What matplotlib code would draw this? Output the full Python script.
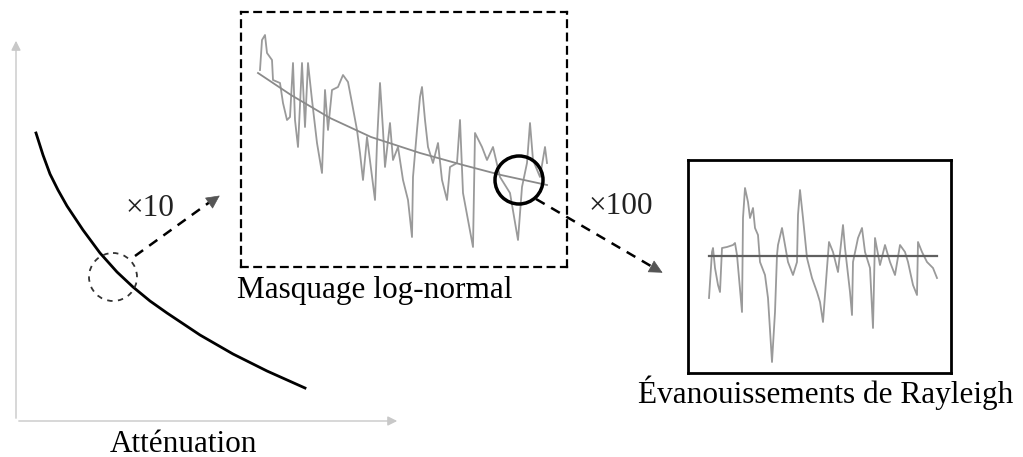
import matplotlib
matplotlib.use("Agg")
import matplotlib.pyplot as plt
from matplotlib.patches import Circle

plt.rcParams['font.family'] = ['Liberation Serif', 'DejaVu Serif']

W, H = 1023, 457

# Path-loss curve (distance, attenuation level)
dist = [20, 27, 34, 42, 51, 67, 84, 101, 117, 134, 151, 184, 217, 251, 289]
atten = [288, 266, 247, 231, 215, 191, 168, 149, 134, 120, 108, 86, 67, 50, 33]

# Log-normal shadowing trace (sample position, level) and its mean trend
shadow_x = [19, 21, 24, 26, 31, 32, 39, 42, 46, 49, 52, 54, 57, 61, 64, 67, 71, 76, 81,
            84, 87, 91, 97, 102, 107, 111, 116, 119, 122, 126, 134, 136, 139, 142, 144,
            149, 152, 157, 162, 167, 171, 172, 176, 179, 181, 184, 187, 192, 197, 201,
            206, 209, 216, 219, 222, 232, 234, 241, 246, 252, 259, 269, 277, 281, 286,
            289, 292, 299, 304, 306]
shadow_y = [197, 227, 232, 214, 207, 187, 184, 164, 147, 150, 204, 147, 120, 204, 140,
            204, 167, 124, 94, 177, 137, 177, 180, 192, 185, 164, 137, 114, 87, 130, 67,
            124, 184, 137, 100, 144, 107, 120, 87, 67, 30, 90, 137, 170, 180, 147, 120,
            104, 124, 87, 67, 100, 104, 147, 74, 20, 134, 120, 107, 120, 90, 74, 27, 80,
            104, 144, 107, 90, 120, 104]
trend_x = [17, 50, 89, 130, 179, 222, 260, 306]
trend_y = [194, 172, 149, 130, 114, 102, 92, 82]

# Rayleigh fading trace around its mean
ray_x = [21, 24, 25, 27, 30, 32, 34, 39, 45, 47, 49, 54, 55, 57, 60, 62, 65, 67, 70, 72,
         77, 80, 84, 87, 89, 90, 94, 97, 100, 105, 109, 110, 112, 115, 119, 124, 129,
         132, 135, 139, 141, 145, 150, 155, 157, 162, 164, 165, 170, 174, 177, 182, 185,
         187, 192, 197, 202, 207, 212, 217, 220, 225, 229, 230, 234, 239, 245, 249]
ray_y = [75, 121, 125, 105, 88, 81, 125, 126, 128, 130, 118, 61, 155, 185, 171, 155, 165,
         145, 138, 111, 98, 75, 11, 61, 118, 128, 145, 128, 111, 98, 111, 158, 183, 155,
         115, 95, 81, 71, 51, 105, 131, 121, 101, 148, 125, 81, 58, 111, 135, 145, 121,
         105, 45, 135, 108, 128, 111, 98, 128, 121, 111, 88, 78, 131, 121, 111, 105, 95]
ray_mean_x = [21, 249]
ray_mean_y = [117, 117]


def px_rect(x0, y0, x1, y1):
    return [x0 / W, 1 - y1 / H, (x1 - x0) / W, (y1 - y0) / H]


fig = plt.figure(figsize=(W / 100, H / 100), dpi=100)

# main attenuation plot
ax = fig.add_axes(px_rect(16, 38, 400, 421))
ax.set_xlim(0, 384)
ax.set_ylim(0, 383)
ax.axis('off')
ax.plot(dist, atten, color='black', lw=2)
light = dict(arrowstyle='-|>', color='#c8c8c8', lw=1, mutation_scale=14)
ax.annotate('', xy=(0, 1), xytext=(0, 0), xycoords='axes fraction', arrowprops=light)
ax.annotate('', xy=(1, 0), xytext=(0, 0), xycoords='axes fraction', arrowprops=light)

# log-normal shadowing panel
ax2 = fig.add_axes(px_rect(241, 12, 567, 267))
ax2.set_xlim(0, 326)
ax2.set_ylim(0, 255)
ax2.set_xticks([])
ax2.set_yticks([])
for s in ax2.spines.values():
    s.set_linestyle((0, (3, 3)))
    s.set_linewidth(1.6)
ax2.plot(shadow_x, shadow_y, color='#9a9a9a', lw=1.3)
ax2.plot(trend_x, trend_y, color='#8a8a8a', lw=1.3)

# Rayleigh fading panel
ax3 = fig.add_axes(px_rect(688, 160, 951, 373))
ax3.set_xlim(0, 263)
ax3.set_ylim(0, 213)
ax3.set_xticks([])
ax3.set_yticks([])
for s in ax3.spines.values():
    s.set_linewidth(2)
ax3.plot(ray_x, ray_y, color='#9a9a9a', lw=1.3)
ax3.plot(ray_mean_x, ray_mean_y, color='#606060', lw=1.6)

# overlay for annotations (pixel space)
ov = fig.add_axes([0, 0, 1, 1])
ov.set_xlim(0, W)
ov.set_ylim(H, 0)
ov.axis('off')
ov.patch.set_alpha(0)

ov.add_patch(Circle((113, 277), 24, fill=False, ec='#333333', lw=1.3, ls=(0, (3, 3))))
ov.add_patch(Circle((519, 180), 24, fill=False, ec='black', lw=2.5))

head = dict(arrowstyle='-|>', color='#555555', lw=0.5, mutation_scale=22)
ov.plot([135, 214], [256, 199], color='black', lw=1.8, ls=(0, (4, 3)))
ov.annotate('', xy=(222, 194), xytext=(212, 201), arrowprops=head)
ov.plot([536, 656], [199, 269], color='black', lw=1.8, ls=(0, (4, 3)))
ov.annotate('', xy=(665, 274), xytext=(654, 268), arrowprops=head)

fs = 22.5
ov.text(150, 209, '×10', fontsize=fs, ha='center', va='center', color='#222222')
ov.text(621, 207, '×100', fontsize=fs, ha='center', va='center', color='#222222')
ov.text(375, 298, 'Masquage log-normal', fontsize=fs, ha='center', va='baseline')
ov.text(826, 403, 'Évanouissements de Rayleigh', fontsize=fs, ha='center', va='baseline')
ov.text(184, 452, 'Atténuation', fontsize=fs, ha='center', va='baseline')

fig.savefig('out.png', dpi=100)
